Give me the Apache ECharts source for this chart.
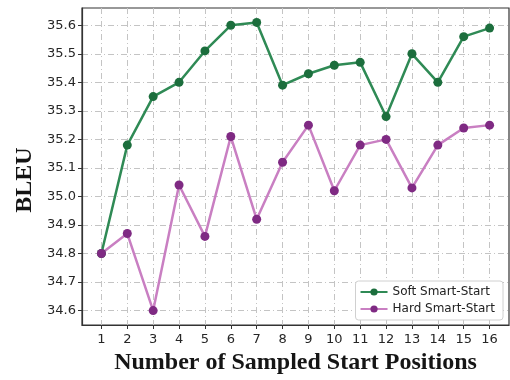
<!DOCTYPE html>
<html>
<head>
<meta charset="utf-8">
<script src="https://cdn.jsdelivr.net/npm/echarts@6/dist/echarts.min.js"></script>
<style>html,body{margin:0;padding:0;background:#fff}#c{width:510px;height:380px}</style>
</head>
<body>
<div id="c"></div>
<script>
const xValues = [1, 2, 3, 4, 5, 6, 7, 8, 9, 10, 11, 12, 13, 14, 15, 16];
const yTicks = [34.6, 34.7, 34.8, 34.9, 35.0, 35.1, 35.2, 35.3, 35.4, 35.5, 35.6];
const softSmartStart = [34.80, 35.18, 35.35, 35.40, 35.51, 35.60, 35.61, 35.39, 35.43, 35.46, 35.47, 35.28, 35.50, 35.40, 35.56, 35.59];
const hardSmartStart = [34.80, 34.87, 34.60, 35.04, 34.86, 35.21, 34.92, 35.12, 35.25, 35.02, 35.18, 35.20, 35.03, 35.18, 35.24, 35.25];

const chart = echarts.init(document.getElementById('c'), null, {renderer: 'canvas'});
const gridLine = {show: true, lineStyle: {color: '#c4c4c4', width: 1, type: [6, 3, 1, 3]}};
const tickFont = {fontFamily: 'DejaVu Sans', fontSize: 13, color: '#262626'};

function pairs(vals) { return xValues.map((x, i) => [x, vals[i]]); }

chart.setOption({
  animation: false,
  backgroundColor: '#fff',
  grid: {left: 82, right: 1, top: 8, bottom: 54, show: true, borderColor: '#333', borderWidth: 1.2, backgroundColor: 'transparent'},
  xAxis: {
    type: 'value', min: 0.25, max: 16.75,
    name: 'Number of Sampled Start Positions', nameLocation: 'middle', nameGap: 26,
    nameTextStyle: {fontFamily: 'Liberation Serif', fontWeight: 'bold', fontSize: 24, color: '#151515'},
    axisLine: {show: true, onZero: false, lineStyle: {color: '#333', width: 1.2}},
    axisTick: {show: true, length: 4, lineStyle: {color: '#333'}, customValues: xValues},
    axisLabel: Object.assign({margin: 8, customValues: xValues, formatter: v => String(v)}, tickFont),
    splitLine: gridLine
  },
  yAxis: {
    type: 'value', min: 34.5495, max: 35.6605,
    axisLine: {show: true, lineStyle: {color: '#333', width: 1.2}},
    axisTick: {show: true, length: 4, lineStyle: {color: '#333'}, customValues: yTicks},
    axisLabel: Object.assign({margin: 6, customValues: yTicks, formatter: v => v.toFixed(1)}, tickFont),
    splitLine: gridLine
  },
  graphic: [{
    type: 'text', x: 25, y: 180, rotation: Math.PI / 2,
    style: {text: 'BLEU', font: 'bold 24px "Liberation Serif"', fill: '#151515', align: 'center', verticalAlign: 'middle'}
  }],
  legend: {
    orient: 'vertical', right: 7, bottom: 60,
    itemWidth: 27, itemHeight: 9, itemGap: 5,
    padding: [5, 8, 5, 4],
    borderColor: '#d0d0d0', borderWidth: 1, borderRadius: 3, backgroundColor: '#fff',
    textStyle: {fontFamily: 'DejaVu Sans', fontSize: 12, color: '#222'},
    data: ['Soft Smart-Start', 'Hard Smart-Start']
  },
  series: [
    {
      name: 'Soft Smart-Start', type: 'line', data: pairs(softSmartStart),
      symbol: 'circle', symbolSize: 9,
      lineStyle: {color: '#2f8a55', width: 2.5},
      itemStyle: {color: '#1c6e3d'}
    },
    {
      name: 'Hard Smart-Start', type: 'line', data: pairs(hardSmartStart),
      symbol: 'circle', symbolSize: 9,
      lineStyle: {color: '#c97fc2', width: 2.5},
      itemStyle: {color: '#7f2a83'}
    }
  ]
});
</script>
</body>
</html>
